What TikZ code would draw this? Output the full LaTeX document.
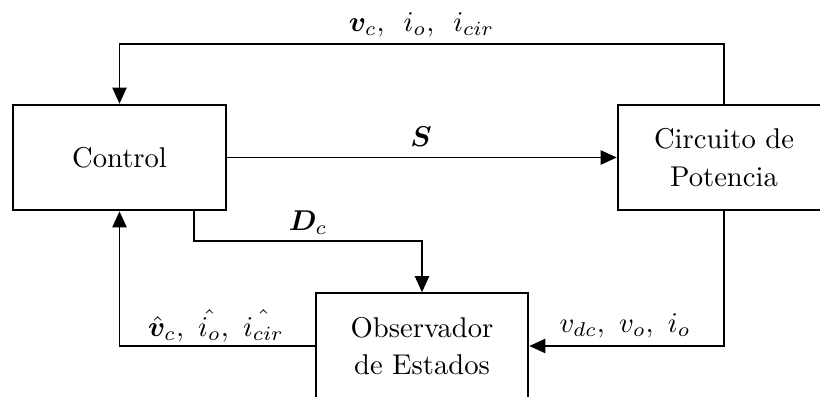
\documentclass[tikz,border=0pt]{standalone}
\usepackage{amsmath}
\usepackage{bm}
\usetikzlibrary{arrows.meta}
\begin{document}
\begin{tikzpicture}[x=0.3497pt,y=-0.3497pt,
  blockbox/.style={draw,line width=0.65pt,minimum width=74.4pt,minimum height=37pt,inner sep=0pt,align=center},
  arr/.style={line width=0.45pt,-{Triangle[length=5.6pt,width=5pt]}},
  lab/.style={inner sep=0pt}]
\clip (0,0) rectangle (820,397);
\useasboundingbox (0,0) rectangle (820,397);
\node[blockbox] (ctrl) at (119.5,157.5) {Control};
\node[blockbox] (circ) at (724,157.5) {Circuito de\\[1pt]Potencia};
\node[blockbox] (obs) at (422,346) {Observador\\[1pt]de Estados};
\coordinate (topL) at (119.5,44);
\coordinate (dcA) at (194,241);
\coordinate (hb) at (119.5,346);
\draw[arr] (circ.north) |- (topL) -- (ctrl.north);
\draw[arr] (ctrl.east) -- (circ.west);
\draw[arr] (ctrl.south -| dcA) -- (dcA) -| (obs.north);
\draw[arr] (obs.west) -- (hb) -- (ctrl.south);
\draw[arr] (circ.south) |- (obs.east);
\node[lab,anchor=base] (ltop) at (421.5,31.5) {$\boldsymbol{v}_c,\ \,i_o,\ \,i_{cir}$};
\node[lab] (lS) at (421,137) {$\boldsymbol{S}$};
\node[lab] (lD) at (308,223) {$\boldsymbol{D}_c$};
\node[lab] (lhat) at (216,326) {$\hat{\boldsymbol{v}}_c,\ \hat{i_o},\ \hat{i_{cir}}$};
\node[lab] (lvdc) at (625,326) {$v_{dc},\ v_o,\ i_o$};
\end{tikzpicture}
\end{document}
